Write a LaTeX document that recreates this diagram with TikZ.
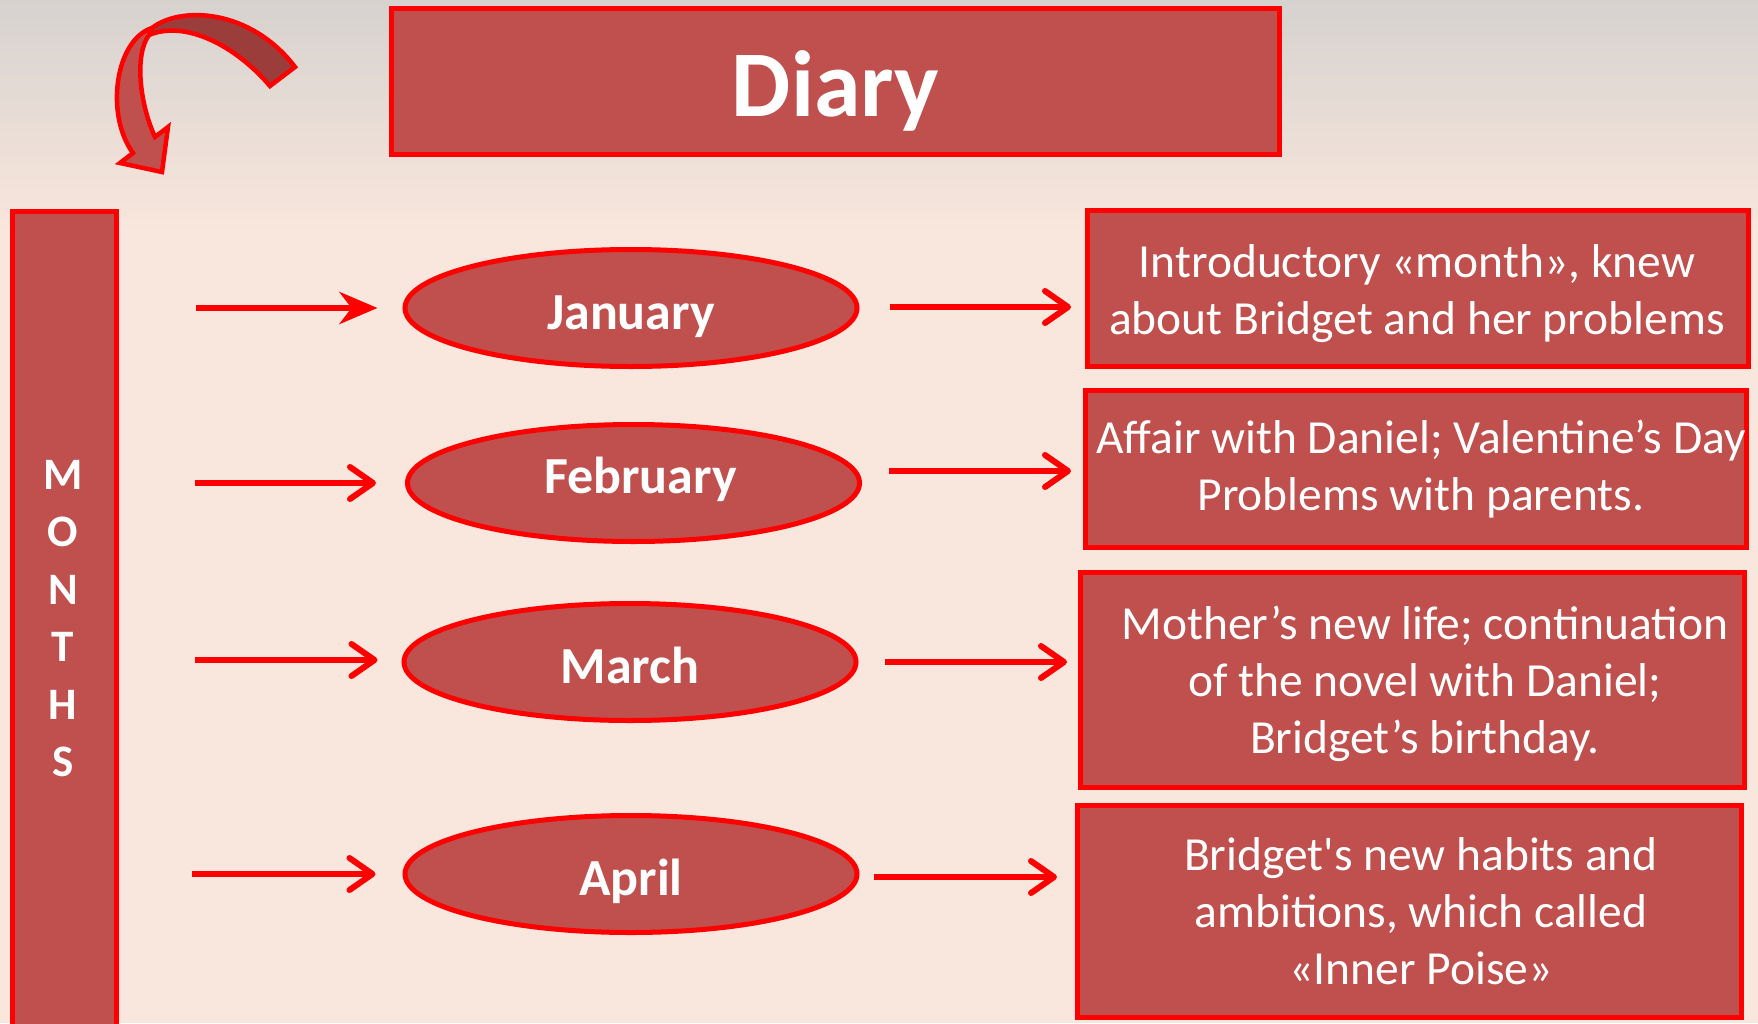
\documentclass[tikz,border=0pt]{standalone}
\usepackage{fontspec}
\setmainfont{Carlito}
\newfontfamily\apfont{Carlito}[Ligatures=TeXOff]
\usetikzlibrary{arrows.meta,shapes.geometric,calc}
\definecolor{boxred}{HTML}{C0504D}
\definecolor{darkred}{HTML}{9B3D3B}
\definecolor{bg}{HTML}{F9E6DC}
\definecolor{bgtop}{HTML}{D6D2CF}
\begin{document}
\begin{tikzpicture}[x=1pt,y=-1pt,
 box/.style={draw=red,fill=boxred,line width=5pt,inner sep=0pt},
 ell/.style={ellipse,draw=red,fill=boxred,line width=5pt,inner sep=0pt,minimum width=452pt,minimum height=117pt,text=white,font=\fontsize{52}{60}\selectfont\bfseries,text height=46pt,text depth=4pt},
 boxtext/.style={text=white,align=center,inner sep=0pt,font=\fontsize{47.5}{57}\selectfont},
 chev/.style={draw=red,line width=6pt,-{Straight Barb[length=23pt,width=32pt,round]}},
 stl/.style={draw=red,line width=6pt,-{Stealth[length=38pt,width=32pt,inset=12pt]}},
 curvarrow/.style={draw=red,line width=4.5pt,line join=miter},
]
% background
\fill[bg] (0,0) rectangle (1758,1023);
\shade[top color=bgtop,bottom color=bg] (0,0) rectangle (1758,230);
\useasboundingbox (0,0) rectangle (1758,1023);

% curved arrow
\filldraw[curvarrow,fill=darkred] (152,28) .. controls (180,6) and (250,8) .. (295,67) -- (270,86) .. controls (235,45) and (185,20) .. (149,35) -- cycle;
\filldraw[curvarrow,fill=boxred] (152,28) .. controls (115,40) and (105,115) .. (133,153) -- (120,163) -- (162,172) -- (168,127) -- (155,137) .. controls (140,105) and (134,55) .. (149,35) -- cycle;

% title
\node[box,minimum width=888pt,minimum height=146pt,text=white,font=\fontsize{94}{100}\selectfont\bfseries,text height=80pt,text depth=10pt] (title) at (835.5,81.5) {Diary};

% months column
\node[box,minimum width=104pt,minimum height=850pt,anchor=north] (months) at (64,209) {};
\node[text=white,align=center,inner sep=0pt,font=\fontsize{45}{57.5}\selectfont\bfseries] (mlabel) at (63,618.5) {M\\O\\N\\T\\H\\S};

% ellipses
\node[ell] (e1) at (631,308) {January};
\node[ell,text height=35pt,text depth=15pt] (e2) at (633.5,483) {\hspace*{14pt}February};
\node[ell] (e3) at (630,662) {March};
\node[ell] (e4) at (631,874) {April};

% right boxes
\node[box,minimum width=661pt,minimum height=156pt] (b1) at (1418,288.5) {};
\node[box,minimum width=661pt,minimum height=157pt] (b2) at (1416,469) {};
\node[box,minimum width=664pt,minimum height=215pt] (b3) at (1412.5,680) {};
\node[box,minimum width=664pt,minimum height=212pt] (b4) at (1409.5,911.5) {};

\node[boxtext] (t1) at (1417,293.5) {Introductory «month», knew\\about Bridget and her problems};
\node[boxtext] (t2) at (1421,469) {Affair with Daniel; Valentine’s Day\\Problems with parents.};
\node[boxtext] (t3) at (1425,684) {Mother’s new life; continuation\\of the novel with Daniel;\\Bridget’s birthday.};
\node[boxtext] (t4) at (1421,911) {Bridget{\apfont'}s new habits and\\ambitions, which called\\«Inner Poise»};

% left arrows
\coordinate (s1) at (196,308);
\coordinate (s2) at (195,483);
\coordinate (s3) at (195,660);
\coordinate (s4) at (192,874);
\draw[stl,shorten >=25pt] (s1) -- (s1 -| e1.west);
\draw[chev,shorten >=29pt] (s2) -- (s2 -| e2.west);
\draw[chev,shorten >=24pt] (s3) -- (s3 -| e3.west);
\draw[chev,shorten >=27pt] (s4) -- (s4 -| e4.west);

% right arrows
\coordinate (r1) at ($(e1.east)+(30,-1)$);
\coordinate (r2) at ($(e2.east)+(27,-12)$);
\coordinate (r3) at ($(e3.east)+(26,0)$);
\coordinate (r4) at ($(e4.east)+(14,3)$);
\draw[chev,shorten >=14pt] (r1) -- (r1 -| b1.west);
\draw[chev,shorten >=12pt] (r2) -- (r2 -| b2.west);
\draw[chev,shorten >=11pt] (r3) -- (r3 -| b3.west);
\draw[chev,shorten >=18pt] (r4) -- (r4 -| b4.west);
\end{tikzpicture}
\end{document}
